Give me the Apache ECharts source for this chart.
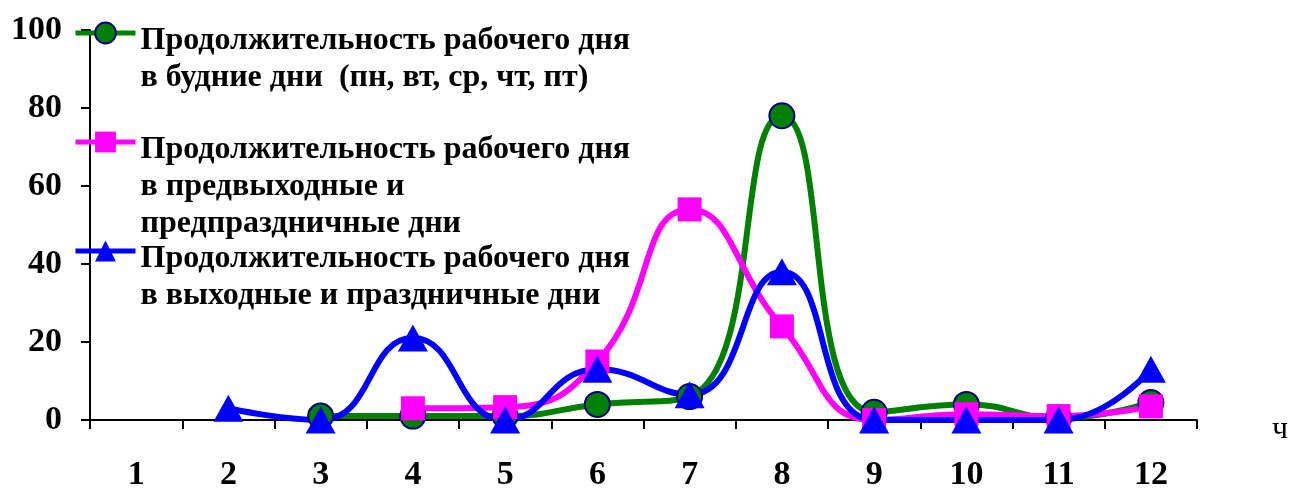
<!DOCTYPE html>
<html>
<head>
<meta charset="utf-8">
<script src="https://cdn.jsdelivr.net/npm/echarts@6/dist/echarts.min.js"></script>
<style>html,body{margin:0;padding:0;background:#fff}#c{width:1290px;height:489px}</style>
</head>
<body>
<div id="c"></div>
<script>
var categories = ['1','2','3','4','5','6','7','8','9','10','11','12'];
var weekdays = [null, null, 1, 1, 1, 4, 6, 78, 2, 4, 0.5, 4.5];
var preHoliday = [null, null, null, 3, 3.3, 15, 54, 24, 0, 1.5, 1, 3.5];
var holidays = [null, 3, 0, 21, 0, 13, 6.5, 38, 0, 0, 0, 13];
var yTicks = [0, 20, 40, 60, 80, 100];
var names = [
  'Продолжительность рабочего дня\nв будние дни  (пн, вт, ср, чт, пт)',
  'Продолжительность рабочего дня\nв предвыходные и\nпредпраздничные дни',
  'Продолжительность рабочего дня\nв выходные и праздничные дни'
];

var FONT = '"Liberation Serif", "Times New Roman", serif';
var LH = 37;
var SHIFT = 16;
function legendFor(i, center) {
  var n = names[i].split('\n').length;
  var block = (2 * n - 1) * LH + SHIFT;
  return {
    data: [names[i]],
    left: 73, top: center - block / 2, padding: 0,
    itemWidth: 60, itemHeight: 26,
    selectedMode: false,
    lineStyle: {width: 5},
    formatter: function (name) {
      var out = '{g| }\n';
      for (var k = 0; k < n - 1; k++) out += '{b| }\n';
      return out + name.split('\n').map(function (s) { return '{b|' + s + '}'; }).join('\n');
    },
    textStyle: {
      fontFamily: FONT, fontWeight: 'bold', fontSize: 32, color: '#000',
      lineHeight: LH,
      rich: {
        g: {fontSize: 8, lineHeight: SHIFT},
        b: {fontFamily: FONT, fontWeight: 'bold', fontSize: 32, color: '#000', lineHeight: LH}
      }
    }
  };
}

var chart = echarts.init(document.getElementById('c'), null, {renderer: 'canvas'});
chart.setOption({
  animation: false,
  backgroundColor: '#fff',
  grid: {left: 90, right: 93, top: 30, bottom: 69, containLabel: false, outerBoundsMode: 'none'},
  legend: [legendFor(0, 33), legendFor(1, 142), legendFor(2, 251)],
  xAxis: {
    type: 'category', data: categories, boundaryGap: true,
    name: 'ч', nameLocation: 'end', nameGap: 75,
    nameTextStyle: {fontFamily: FONT, fontSize: 32, color: '#000', verticalAlign: 'top', lineHeight: 20, padding: [0, 0, 0, 0]},
    axisLine: {lineStyle: {color: '#000', width: 2}},
    axisTick: {show: true, length: 9, lineStyle: {color: '#000', width: 2}},
    axisLabel: {fontFamily: FONT, fontWeight: 'bold', fontSize: 34, color: '#000', margin: 38}
  },
  yAxis: {
    type: 'value', min: 0, max: 100, interval: 20,
    axisLine: {show: true, lineStyle: {color: '#000', width: 2}},
    axisTick: {show: true, length: 9, lineStyle: {color: '#000', width: 2}},
    splitLine: {show: false},
    axisLabel: {fontFamily: FONT, fontWeight: 'bold', fontSize: 34, color: '#000', margin: 28,
      formatter: function (v) { return yTicks.indexOf(v) >= 0 ? String(v) : ''; }}
  },
  series: [
    {name: names[0], type: 'line', data: weekdays, smooth: 0.5,
     symbol: 'circle', symbolSize: 25, showAllSymbol: true,
     lineStyle: {color: '#008000', width: 6},
     itemStyle: {color: '#008000', borderColor: '#000080', borderWidth: 2}},
    {name: names[1], type: 'line', data: preHoliday, smooth: 0.5,
     symbol: 'rect', symbolSize: 24, showAllSymbol: true,
     lineStyle: {color: '#FF00FF', width: 6},
     itemStyle: {color: '#FF00FF', borderColor: '#FF00FF', borderWidth: 0}},
    {name: names[2], type: 'line', data: holidays, smooth: 0.5,
     symbol: 'triangle', symbolSize: [30, 27], showAllSymbol: true,
     lineStyle: {color: '#0000FF', width: 6},
     itemStyle: {color: '#0000FF', borderColor: '#0000FF', borderWidth: 0}}
  ]
});
</script>
</body>
</html>
